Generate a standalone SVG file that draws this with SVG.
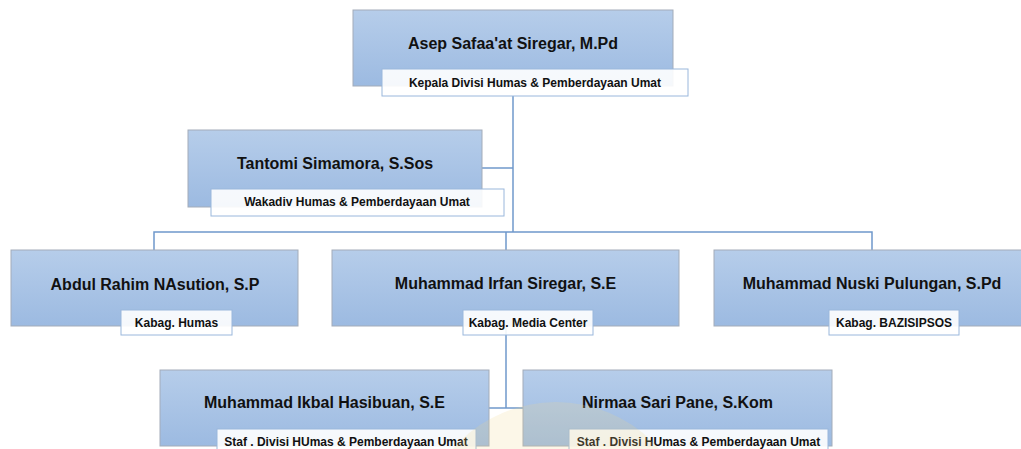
<svg xmlns="http://www.w3.org/2000/svg" width="1021" height="449" viewBox="0 0 1021 449">
<defs>
<linearGradient id="bg" x1="0" y1="0" x2="0" y2="1">
<stop offset="0" stop-color="#b6cdea"/>
<stop offset="1" stop-color="#9cbae1"/>
</linearGradient>
<style>
.box{fill:url(#bg);stroke:#a3acb9;stroke-width:1}
.lbl{fill:#ffffff;fill-opacity:0.9;stroke:#9ab7dc;stroke-width:1}
.name{font-family:"Liberation Sans",Arial,sans-serif;font-weight:bold;font-size:16px;fill:#111;text-anchor:middle}
.sub{font-family:"Liberation Sans",Arial,sans-serif;font-weight:bold;font-size:12px;fill:#111;text-anchor:middle}
.ln{fill:none;stroke:#6f98cb;stroke-width:1.5}
</style>
</defs>
<rect width="1021" height="449" fill="#ffffff"/>
<g id="connectors">
<path class="ln" d="M513 96V232"/>
<path class="ln" d="M482 168H513"/>
<path class="ln" d="M154 250V232H872V250"/>
<path class="ln" d="M506 232V408"/>
<path class="ln" d="M489 408H523"/>
</g>
<g id="n1">
<rect class="box" x="353" y="10" width="320" height="76"/>
<text class="name" x="513" y="49">Asep Safaa'at Siregar, M.Pd</text>
<rect class="lbl" x="382" y="69" width="306" height="27"/>
<text class="sub" x="535" y="87">Kepala Divisi Humas &amp; Pemberdayaan Umat</text>
</g>
<g id="n2">
<rect class="box" x="188" y="130" width="294" height="77"/>
<text class="name" x="335" y="169">Tantomi Simamora, S.Sos</text>
<rect class="lbl" x="211" y="189" width="293" height="27"/>
<text class="sub" x="357" y="206">Wakadiv Humas &amp; Pemberdayaan Umat</text>
</g>
<g id="n3">
<rect class="box" x="11" y="250" width="287" height="76"/>
<text class="name" x="155" y="290">Abdul Rahim NAsution, S.P</text>
<rect class="lbl" x="121" y="310" width="111" height="25"/>
<text class="sub" x="176.5" y="327">Kabag. Humas</text>
</g>
<g id="n4">
<rect class="box" x="332" y="250" width="347" height="76"/>
<text class="name" x="505.5" y="289">Muhammad Irfan Siregar, S.E</text>
<rect class="lbl" x="463" y="310" width="130" height="25"/>
<text class="sub" x="528" y="327">Kabag. Media Center</text>
</g>
<g id="n5">
<rect class="box" x="714" y="250" width="316" height="76"/>
<text class="name" x="872" y="289">Muhammad Nuski Pulungan, S.Pd</text>
<rect class="lbl" x="829" y="310" width="130" height="25"/>
<text class="sub" x="894" y="327">Kabag. BAZISIPSOS</text>
</g>
<g id="n6">
<rect class="box" x="160" y="370" width="329" height="76"/>
<text class="name" x="324.5" y="408">Muhammad Ikbal Hasibuan, S.E</text>
<rect class="lbl" x="217" y="429" width="259" height="25"/>
<text class="sub" x="346" y="446">Staf . Divisi HUmas &amp; Pemberdayaan Umat</text>
</g>
<g id="n7">
<rect class="box" x="523" y="370" width="309" height="76"/>
<text class="name" x="677.5" y="408">Nirmaa Sari Pane, S.Kom</text>
<rect class="lbl" x="569" y="429" width="259" height="25"/>
<text class="sub" x="698.5" y="446">Staf . Divisi HUmas &amp; Pemberdayaan Umat</text>
</g>
<circle cx="556" cy="539" r="137" fill="#f2d98a" fill-opacity="0.2"/>
</svg>
